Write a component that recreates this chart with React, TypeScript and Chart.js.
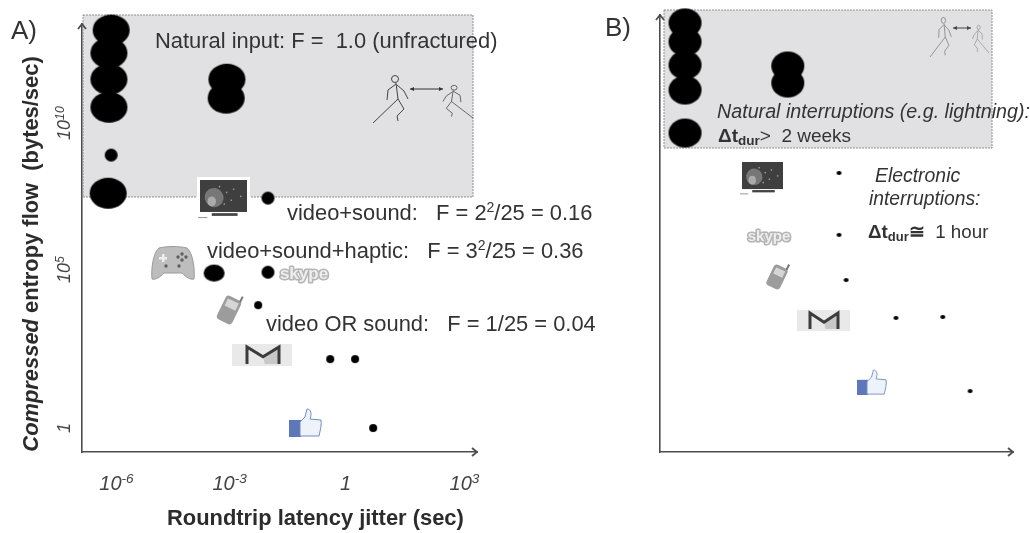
import React, { useEffect, useRef } from "react";
import { Chart, registerables } from "chart.js";

Chart.register(...registerables);

// Panel A: log10 of jitter (x) and log10 of entropy flow (y), grouped by mark size
const aLargeX = [-6.15, -6.21, -6.21, -6.21, -6.23, -3.08, -3.1];
const aLargeY = [13.05, 12.3, 11.44, 10.52, 7.7, 11.44, 10.82];
const aMediumX = [-3.42];
const aMediumY = [5.08];
const aSmallX = [-6.15, -1.99, -1.99];
const aSmallY = [8.95, 7.54, 5.11];
const aTinyX = [-2.25, -0.34, 0.32, 0.8];
const aTinyY = [4.03, 2.26, 2.26, 0];

// Panel B: same quantities, no tick labels
const bLargeX = [-6.18, -6.18, -6.18, -6.18, -6.18, -3.13, -3.13];
const bLargeY = [13.28, 12.66, 11.9, 11.08, 9.67, 11.87, 11.31];
const bDotX = [-1.61, -1.61, -1.4, 0.08, 1.47, 2.28];
const bDotY = [8.36, 6.33, 4.85, 3.61, 3.64, 1.21];

// Tick exponents on panel A's axes
const xTickExps = [-6, -3, 0, 3];
const yTickExps = [0, 5, 10];

const TEXT = "#333";
const SANS = '"Liberation Sans", Arial, sans-serif';
const font = (size: number, style = "") => `${style} ${size}px ${SANS}`;

function ellipse(w: number, h: number) {
  const c = document.createElement("canvas");
  c.width = w + 2;
  c.height = h + 2;
  const x = c.getContext("2d")!;
  x.fillStyle = "#000";
  x.beginPath();
  x.ellipse(c.width / 2, c.height / 2, w / 2, h / 2, 0, 0, Math.PI * 2);
  x.fill();
  return c;
}

type Run = { t: string; f: string; dy?: number };
function runs(ctx: any, x: number, y: number, list: Run[], color = TEXT) {
  ctx.fillStyle = color;
  ctx.textBaseline = "alphabetic";
  ctx.textAlign = "left";
  let px = x;
  for (const r of list) {
    ctx.font = r.f;
    ctx.fillText(r.t, px, y + (r.dy || 0));
    px += ctx.measureText(r.t).width;
  }
}
function rotatedRuns(ctx: any, cx: number, cy: number, list: Run[], color = TEXT) {
  ctx.save();
  ctx.translate(cx, cy);
  ctx.rotate(-Math.PI / 2);
  let w = 0;
  for (const r of list) {
    ctx.font = r.f;
    w += ctx.measureText(r.t).width;
  }
  runs(ctx, -w / 2, 0, list, color);
  ctx.restore();
}
function powerRuns(exp: number, size: number): Run[] {
  if (exp === 0) return [{ t: "1", f: font(size, "italic") }];
  return [
    { t: "10", f: font(size, "italic") },
    { t: String(exp), f: font(size * 0.68, "italic"), dy: -size * 0.36 },
  ];
}

function arrowHead(ctx: any, x: number, y: number, dir: "up" | "right", color: string) {
  ctx.save();
  ctx.translate(x, y);
  if (dir === "up") ctx.rotate(-Math.PI / 2);
  ctx.strokeStyle = color;
  ctx.lineWidth = 1.8;
  ctx.beginPath();
  ctx.moveTo(-5, -4);
  ctx.lineTo(0, 0);
  ctx.lineTo(-5, 4);
  ctx.stroke();
  ctx.restore();
}

function rr(ctx: any, x: number, y: number, w: number, h: number, r: number) {
  ctx.beginPath();
  ctx.roundRect(x, y, w, h, r);
}

function tv(ctx: any, x: number, y: number, w: number, h: number, frame: boolean) {
  if (frame) {
    ctx.fillStyle = "#fff";
    ctx.fillRect(x - 3, y - 3, w + 6, h + 5);
  }
  ctx.fillStyle = "#3f3f3f";
  ctx.fillRect(x, y, w, h * 0.82);
  ctx.fillStyle = "#777";
  ctx.beginPath();
  ctx.ellipse(x + w * 0.3, y + h * 0.45, w * 0.2, h * 0.25, -0.6, 0, Math.PI * 2);
  ctx.fill();
  ctx.fillStyle = "#aaa";
  ctx.beginPath();
  ctx.ellipse(x + w * 0.25, y + h * 0.55, w * 0.09, h * 0.13, 0, 0, Math.PI * 2);
  ctx.fill();
  ctx.fillStyle = "#999";
  [[0.4, 0.15], [0.55, 0.3], [0.7, 0.22], [0.65, 0.5], [0.5, 0.6], [0.85, 0.4]].forEach(([a, b]) =>
    ctx.fillRect(x + w * a, y + h * b, 1.5, 1.5)
  );
  ctx.fillStyle = "#444";
  ctx.fillRect(x + w * 0.25, y + h * 0.85, w * 0.55, h * 0.07);
  ctx.fillStyle = "#999";
  ctx.fillRect(x - 2, y + h * 0.95, w * 0.2, 1);
}

function gamepad(ctx: any, x: number, y: number, w: number, h: number) {
  ctx.save();
  ctx.translate(x, y);
  ctx.scale(w / 42, h / 33);
  ctx.fillStyle = "#bdbdbd";
  ctx.strokeStyle = "#9a9a9a";
  ctx.lineWidth = 1;
  ctx.beginPath();
  ctx.moveTo(7, 1);
  ctx.bezierCurveTo(16, -1, 26, -1, 35, 1);
  ctx.bezierCurveTo(41, 6, 43, 22, 42, 32);
  ctx.bezierCurveTo(38, 33, 34, 30, 30, 26);
  ctx.lineTo(12, 26);
  ctx.bezierCurveTo(8, 30, 4, 33, 0, 32);
  ctx.bezierCurveTo(-1, 22, 1, 6, 7, 1);
  ctx.closePath();
  ctx.fill();
  ctx.stroke();
  ctx.fillStyle = "#eee";
  ctx.fillRect(7, 10, 8, 2.5);
  ctx.fillRect(10, 7, 2.5, 8);
  ctx.fillStyle = "#5f5f5f";
  [[30, 7], [34, 10], [26, 10], [30, 13], [14, 19], [27, 19]].forEach(([a, b]) => {
    ctx.beginPath();
    ctx.arc(a, b, 1.7, 0, Math.PI * 2);
    ctx.fill();
  });
  ctx.restore();
}

function skype(ctx: any, cx: number, cy: number, size: number) {
  ctx.save();
  ctx.font = font(size, "bold");
  ctx.textAlign = "center";
  ctx.textBaseline = "middle";
  ctx.strokeStyle = "#b5b5b5";
  ctx.lineWidth = 3.2;
  ctx.lineJoin = "round";
  ctx.strokeText("skype", cx, cy);
  ctx.fillStyle = "#eeeeee";
  ctx.fillText("skype", cx, cy);
  ctx.restore();
}

function phone(ctx: any, cx: number, cy: number, w: number, h: number) {
  ctx.save();
  ctx.translate(cx, cy);
  ctx.rotate(0.45);
  ctx.fillStyle = "#9c9c9c";
  rr(ctx, -w / 2, -h / 2, w, h, 3.5);
  ctx.fill();
  ctx.fillStyle = "#d6d6d6";
  ctx.fillRect(-w / 2 + 2.5, -h / 2 + 3, w - 5, h * 0.3);
  ctx.fillStyle = "#777";
  ctx.fillRect(w / 2 - 3, -h / 2 - 5, 2, 6);
  ctx.restore();
}

function gmail(ctx: any, x: number, y: number, w: number, h: number, mx: number, mw: number) {
  ctx.fillStyle = "#e9e9e9";
  ctx.fillRect(x, y, w, h);
  const top = y + 2;
  const bot = y + h - 2;
  ctx.fillStyle = "#c8c8c8";
  ctx.beginPath();
  ctx.moveTo(mx + mw * 0.5, top + (bot - top) * 0.55);
  ctx.lineTo(mx + mw, top);
  ctx.lineTo(mx + mw, bot);
  ctx.lineTo(mx + mw * 0.55, bot);
  ctx.closePath();
  ctx.fill();
  ctx.strokeStyle = "#3c3c3c";
  ctx.lineWidth = 3;
  ctx.lineJoin = "miter";
  ctx.beginPath();
  ctx.moveTo(mx + 1, bot);
  ctx.lineTo(mx + 1, top + 1);
  ctx.lineTo(mx + mw / 2, top + (bot - top) * 0.6);
  ctx.lineTo(mx + mw - 1, top + 1);
  ctx.lineTo(mx + mw - 1, bot);
  ctx.stroke();
}

function thumb(ctx: any, x: number, y: number, w: number, h: number) {
  ctx.save();
  ctx.translate(x, y);
  ctx.scale(w / 33, h / 28);
  ctx.fillStyle = "#5d78b8";
  ctx.fillRect(0, 11, 12, 17);
  ctx.fillStyle = "#eef3fb";
  ctx.strokeStyle = "#6f8cc4";
  ctx.lineWidth = 1;
  ctx.beginPath();
  ctx.moveTo(11, 13);
  ctx.lineTo(16, 8);
  ctx.lineTo(18, 0);
  ctx.bezierCurveTo(22, 0, 23, 5, 21, 10);
  ctx.lineTo(32, 11);
  ctx.bezierCurveTo(33, 15, 31, 22, 30, 27);
  ctx.lineTo(11, 27);
  ctx.closePath();
  ctx.fill();
  ctx.stroke();
  ctx.restore();
}

function figure(ctx: any, x: number, y: number, w: number, h: number, flip: boolean, color: string) {
  ctx.save();
  ctx.translate(flip ? x + w : x, y);
  ctx.scale((flip ? -1 : 1) * (w / 36), h / 48);
  ctx.strokeStyle = color;
  ctx.lineWidth = 1;
  ctx.beginPath();
  ctx.arc(22, 4, 3.5, 0, Math.PI * 2);
  ctx.moveTo(23, 8);
  ctx.lineTo(25, 24);
  ctx.moveTo(23, 9);
  ctx.lineTo(15, 15);
  ctx.lineTo(14, 25);
  ctx.moveTo(24, 10);
  ctx.lineTo(31, 16);
  ctx.lineTo(35, 24);
  ctx.moveTo(25, 24);
  ctx.lineTo(0, 48);
  ctx.moveTo(25, 24);
  ctx.lineTo(31, 34);
  ctx.lineTo(24, 41);
  ctx.lineTo(25, 46);
  ctx.stroke();
  ctx.restore();
}

function dblArrow(ctx: any, x1: number, x2: number, y: number, color: string) {
  ctx.strokeStyle = color;
  ctx.fillStyle = color;
  ctx.lineWidth = 1;
  ctx.beginPath();
  ctx.moveTo(x1, y);
  ctx.lineTo(x2, y);
  ctx.stroke();
  [[x1, 1], [x2, -1]].forEach(([p, d]) => {
    ctx.beginPath();
    ctx.moveTo(p, y);
    ctx.lineTo(p + d * 4, y - 2);
    ctx.lineTo(p + d * 4, y + 2);
    ctx.fill();
  });
}

function grayBox(ctx: any, x: number, y: number, w: number, h: number) {
  ctx.fillStyle = "#e1e0e3";
  ctx.fillRect(x, y, w, h);
  ctx.strokeStyle = "#8f8f8f";
  ctx.lineWidth = 1;
  ctx.setLineDash([2, 1]);
  ctx.strokeRect(x, y, w, h);
  ctx.setLineDash([]);
}

const BODY = 21.9;

const panelAPlugin = {
  id: "panelA",
  beforeDatasetsDraw(chart: any) {
    const ctx = chart.ctx;
    grayBox(ctx, 83, 15, 390, 182);
  },
  afterDatasetsDraw(chart: any) {
    const ctx = chart.ctx;
    const { x, y } = chart.scales;
    const axis = "#4d4d4d";
    arrowHead(ctx, x.right, y.bottom, "right", axis);
    arrowHead(ctx, x.left, y.top, "up", axis);

    x.ticks.forEach((t: any, i: number) => {
      const e = Math.round(Math.log10(t.value));
      const list = powerRuns(e, 20);
      const nudge = i === 3 ? 11 : 0;
      const w = e === 0 ? 6 : 35;
      runs(ctx, x.getPixelForValue(t.value) + nudge - w / 2, 490, list, "#444");
    });
    y.ticks.forEach((t: any) => {
      const e = Math.round(Math.log10(t.value));
      rotatedRuns(ctx, 70, y.getPixelForValue(t.value) - (e === 5 ? 6 : 0), powerRuns(e, 18), "#444");
    });

    runs(ctx, 167, 525, [{ t: "Roundtrip latency jitter (sec)", f: font(BODY, "bold") }], "#2c2c2c");
    rotatedRuns(
      ctx,
      38,
      254,
      [
        { t: "Compressed", f: font(BODY, "italic bold") },
        { t: " entropy flow  (bytes/sec)", f: font(BODY, "bold") },
      ],
      "#2c2c2c"
    );
    runs(ctx, 11, 39, [{ t: "A)", f: font(26) }]);

    runs(ctx, 155, 48, [{ t: "Natural input: F =  1.0 (unfractured)", f: font(BODY) }]);
    runs(ctx, 287, 220, [
      { t: "video+sound:   F = 2", f: font(BODY) },
      { t: "2", f: font(14), dy: -8 },
      { t: "/25 = 0.16", f: font(BODY) },
    ]);
    runs(ctx, 207, 258, [
      { t: "video+sound+haptic:   F = 3", f: font(BODY) },
      { t: "2", f: font(14), dy: -8 },
      { t: "/25 = 0.36", f: font(BODY) },
    ]);
    runs(ctx, 266, 331, [{ t: "video OR sound:   F = 1/25 = 0.04", f: font(BODY) }]);

    tv(ctx, 200, 180, 47, 39, true);
    gamepad(ctx, 152, 247, 42, 33);
    skype(ctx, 304, 274, 17);
    phone(ctx, 229, 310, 17, 26);
    gmail(ctx, 232, 344, 60, 22, 246, 34);
    thumb(ctx, 289, 409, 33, 28);
    figure(ctx, 373, 75, 36, 48, false, "#444");
    figure(ctx, 442, 85, 31, 33, true, "#444");
    dblArrow(ctx, 410, 443, 89, "#333");
  },
};

const panelBPlugin = {
  id: "panelB",
  beforeDatasetsDraw(chart: any) {
    grayBox(chart.ctx, 664, 10, 328, 138);
  },
  afterDatasetsDraw(chart: any) {
    const ctx = chart.ctx;
    const { x, y } = chart.scales;
    const axis = "#4d4d4d";
    arrowHead(ctx, x.right, y.bottom, "right", axis);
    arrowHead(ctx, x.left, y.top, "up", axis);

    runs(ctx, 605, 36, [{ t: "B)", f: font(26) }]);
    runs(ctx, 717, 118, [{ t: "Natural interruptions (e.g. lightning):", f: font(19.7, "italic") }]);
    runs(ctx, 718, 142, [
      { t: "\u0394t", f: font(19, "bold") },
      { t: "dur", f: font(13.5, "bold"), dy: 3 },
      { t: ">  2 weeks", f: font(19) },
    ]);
    runs(ctx, 875, 182, [{ t: "Electronic", f: font(19.4, "italic") }]);
    runs(ctx, 869, 205, [{ t: "interruptions:", f: font(19.3, "italic") }]);
    runs(ctx, 868, 238, [
      { t: "\u0394t", f: font(18.8, "bold") },
      { t: "dur", f: font(13, "bold"), dy: 3 },
      { t: "\u2245", f: font(18.8, "bold") },
      { t: "  1 hour", f: font(18.8) },
    ]);

    tv(ctx, 742, 162, 41, 33, false);
    skype(ctx, 769, 237, 15);
    phone(ctx, 777, 277, 15, 23);
    gmail(ctx, 797, 310, 53, 21, 809, 30);
    thumb(ctx, 857, 370, 30, 25);
    figure(ctx, 930, 17, 22, 40, false, "#777");
    figure(ctx, 972, 25, 17, 28, true, "#777");
    dblArrow(ctx, 953, 971, 28, "#444");
  },
};

const pts = (xs: number[], ys: number[]) => xs.map((v, i) => ({ x: 10 ** v, y: 10 ** ys[i] }));

function makeOptions(
  pad: { left: number; right: number; top: number; bottom: number },
  xr: [number, number],
  yr: [number, number],
  xTicks: number[],
  yTicks: number[]
) {
  const axis = (range: [number, number], ticks: number[]) => ({
    type: "logarithmic",
    min: 10 ** range[0],
    max: 10 ** range[1],
    grid: { display: false },
    border: { display: true, color: "#4d4d4d", width: 1.6 },
    ticks: { display: false },
    afterBuildTicks: (s: any) => {
      s.ticks = ticks.map((e) => ({ value: 10 ** e }));
    },
  });
  return {
    responsive: false,
    animation: false,
    devicePixelRatio: 1,
    layout: { padding: pad },
    plugins: { legend: { display: false }, tooltip: { enabled: false } },
    scales: { x: axis(xr, xTicks), y: axis(yr, yTicks) },
  };
}

const canvasStyle: React.CSSProperties = {
  position: "absolute",
  left: 0,
  top: 0,
  filter: "blur(0.5px)",
};

export default function App() {
  const aRef = useRef<HTMLCanvasElement>(null);
  const bRef = useRef<HTMLCanvasElement>(null);

  useEffect(() => {
    const ds = (xs: number[], ys: number[], style: HTMLCanvasElement) => ({
      data: pts(xs, ys),
      pointStyle: style,
      pointRadius: 4,
      showLine: false,
      clip: false,
    });
    const chartA = new Chart(aRef.current!, {
      type: "scatter",
      data: {
        datasets: [
          ds(aLargeX, aLargeY, ellipse(37, 31)),
          ds(aMediumX, aMediumY, ellipse(21, 17)),
          ds(aSmallX, aSmallY, ellipse(13, 13)),
          ds(aTinyX, aTinyY, ellipse(8, 8)),
        ],
      },
      options: makeOptions(
        { left: 74, right: 553, top: 24, bottom: 73 },
        [-6.923, 3.554],
        [-0.787, 13.25],
        xTickExps,
        yTickExps
      ) as any,
      plugins: [panelAPlugin],
    } as any);
    const chartB = new Chart(bRef.current!, {
      type: "scatter",
      data: {
        datasets: [ds(bLargeX, bLargeY, ellipse(33, 29)), ds(bDotX, bDotY, ellipse(5, 4))],
      },
      options: makeOptions(
        { left: 652, right: 17, top: 15, bottom: 73 },
        [-6.923, 3.554],
        [-0.787, 13.54],
        [],
        []
      ) as any,
      plugins: [panelBPlugin],
    } as any);
    return () => {
      chartA.destroy();
      chartB.destroy();
    };
  }, []);

  return (
    <div style={{ position: "absolute", left: 0, top: 0, width: 1030, height: 533, background: "#fff" }}>
      <canvas ref={aRef} width={1030} height={533} style={canvasStyle} />
      <canvas ref={bRef} width={1030} height={533} style={canvasStyle} />
    </div>
  );
}
